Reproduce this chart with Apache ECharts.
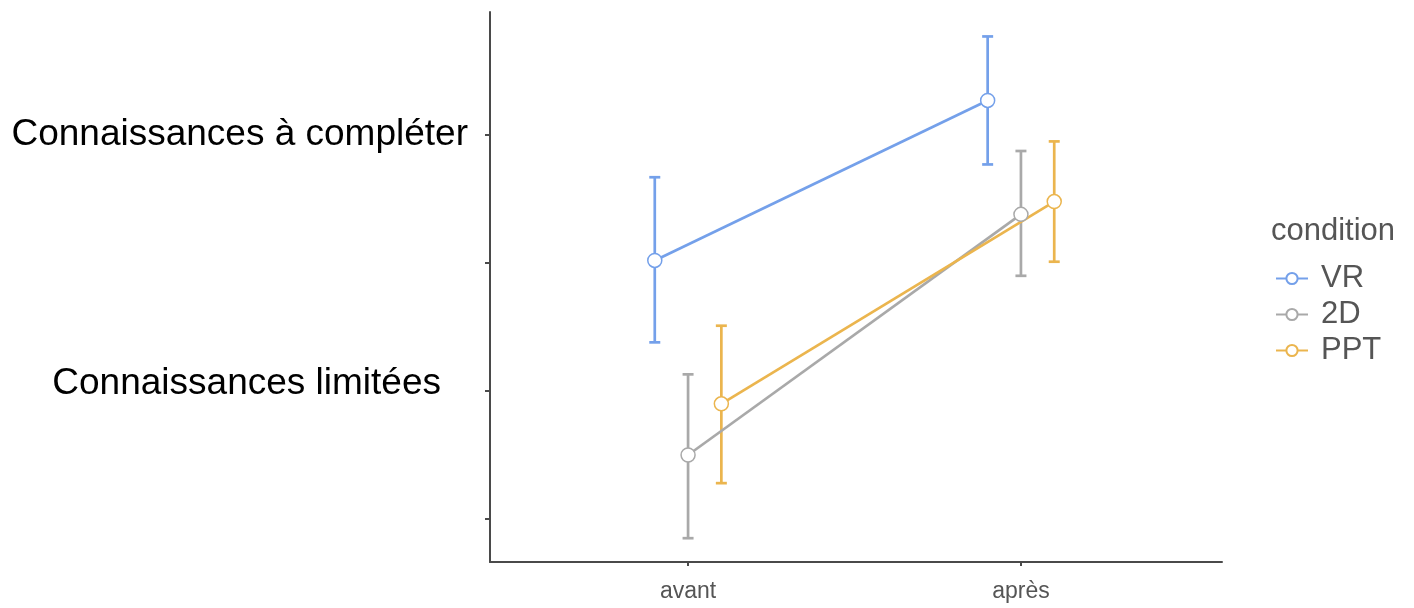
<!DOCTYPE html>
<html>
<head>
<meta charset="utf-8">
<script src="https://cdn.jsdelivr.net/npm/echarts@6/dist/echarts.min.js"></script>
<style>html,body{margin:0;padding:0;background:#fff}#c{width:1414px;height:608px}</style>
</head>
<body>
<div id="c"></div>
<script>
// ---- data ----
const categories = ['avant', 'après'];
const seriesNames = ['VR', '2D', 'PPT'];
const vrMean = [3.02, 4.27];
const vrLow  = [2.38, 3.77];
const vrHigh = [3.67, 4.77];
const d2Mean = [1.50, 3.38];
const d2Low  = [0.85, 2.90];
const d2High = [2.13, 3.875];
const pptMean = [1.90, 3.48];
const pptLow  = [1.28, 3.01];
const pptHigh = [2.51, 3.95];
const yTickValues = [1, 2, 3, 4];
const yTickLabels = {4: 'Connaissances à compléter', 2: 'Connaissances limitées'};

// ---- styling ----
const colors = ['#74a0ea', '#a9a9a9', '#ebb54e'];
const dodge = [-0.1, 0, 0.1];
const means = [vrMean, d2Mean, pptMean];
const lows = [vrLow, d2Low, pptLow];
const highs = [vrHigh, d2High, pptHigh];

const series = [];
seriesNames.forEach((name, s) => {
  series.push({
    type: 'line',
    name: name,
    data: categories.map((c, i) => [i + 1 + dodge[s], means[s][i]]),
    z: 3,
    symbol: 'circle',
    symbolSize: 14,
    lineStyle: {color: colors[s], width: 2.7},
    itemStyle: {color: '#ffffff', borderColor: colors[s], borderWidth: 1.5},
    emphasis: {disabled: true}
  });
});
seriesNames.forEach((name, s) => {
  const errData = categories.map((c, i) => [i + 1 + dodge[s], lows[s][i], highs[s][i]]);
  series.push({
    type: 'custom',
    name: name + ' ',
    data: errData,
    z: 2,
    renderItem: function (params, api) {
      const x = api.value(0);
      const lo = api.coord([x, api.value(1)]);
      const hi = api.coord([x, api.value(2)]);
      const cw = 5.5;
      const st = {stroke: colors[s], lineWidth: 2.7};
      return {
        type: 'group',
        children: [
          {type: 'line', shape: {x1: lo[0], y1: lo[1], x2: hi[0], y2: hi[1]}, style: st},
          {type: 'line', shape: {x1: lo[0] - cw, y1: lo[1], x2: lo[0] + cw, y2: lo[1]}, style: st},
          {type: 'line', shape: {x1: hi[0] - cw, y1: hi[1], x2: hi[0] + cw, y2: hi[1]}, style: st}
        ]
      };
    },
    encode: {x: 0, y: [1, 2]}
  });
});

const chart = echarts.init(document.getElementById('c'), null, {renderer: 'canvas'});
chart.setOption({
  animation: false,
  backgroundColor: '#ffffff',
  title: {
    text: 'condition',
    left: 1266,
    top: 211,
    textStyle: {fontFamily: 'Liberation Sans', fontSize: 31, fontWeight: 'normal', color: '#555555'}
  },
  legend: {
    data: seriesNames,
    orient: 'vertical',
    left: 1270,
    top: 258,
    itemWidth: 32,
    itemHeight: 14,
    itemGap: 5,
    textStyle: {fontFamily: 'Liberation Sans', fontSize: 31, color: '#555555', padding: [0, 0, 0, 8]}
  },
  grid: {left: 490, right: 192, top: 12, bottom: 46},
  xAxis: {
    type: 'value',
    min: 0.405,
    max: 2.604,
    splitLine: {show: false},
    axisLine: {lineStyle: {color: '#4a4a4a', width: 2}},
    axisTick: {show: true, length: 4, lineStyle: {color: '#4a4a4a', width: 2}, customValues: [1, 2]},
    axisLabel: {
      customValues: [1, 2],
      formatter: v => categories[Math.round(v) - 1] || '',
      fontFamily: 'Liberation Sans',
      fontSize: 23,
      color: '#555555',
      margin: 18
    }
  },
  yAxis: {
    type: 'value',
    min: 0.664,
    max: 4.961,
    splitLine: {show: false},
    axisLine: {show: true, lineStyle: {color: '#4a4a4a', width: 2}},
    axisTick: {show: true, length: 5, lineStyle: {color: '#4a4a4a', width: 2}, customValues: yTickValues},
    axisLabel: {
      customValues: yTickValues,
      margin: 22,
      formatter: v => {
        const t = yTickLabels[Math.round(v)];
        if (!t) return '';
        return Math.round(v) === 2 ? '{b|' + t + '}' : '{a|' + t + '}';
      },
      rich: {
        a: {fontFamily: 'Liberation Sans', fontSize: 37, color: '#000000'},
        b: {fontFamily: 'Liberation Sans', fontSize: 37, color: '#000000', padding: [0, 27, 14, 0]}
      }
    }
  },
  series: series
});
</script>
</body>
</html>
